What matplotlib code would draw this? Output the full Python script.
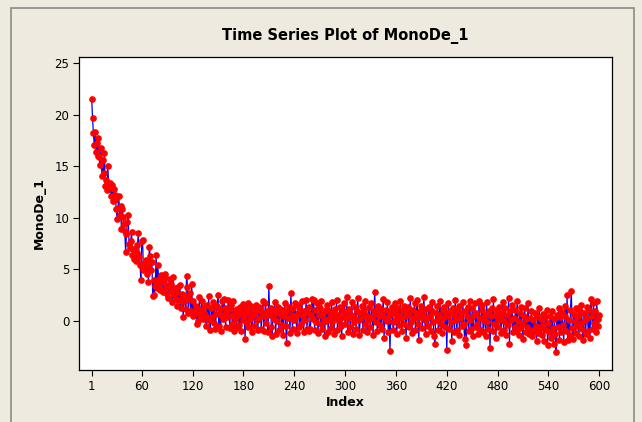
import numpy as np
import matplotlib
matplotlib.use("Agg")
import matplotlib.pyplot as plt
from matplotlib.patches import Rectangle

# MonoDe_1 values, index 1..600 in blocks of 100
mono_001_100 = [
    21.5, 19.7, 18.2, 17.1, 18.3, 16.4, 17.3, 16.0, 17.7, 15.9,
    15.1, 16.8, 14.1, 15.6, 14.4, 16.3, 13.1, 13.7, 12.7, 15.0,
    13.3, 13.4, 12.9, 12.1, 13.2, 11.6, 12.8, 12.2, 11.7, 10.9,
    9.9, 11.0, 12.1, 10.3, 11.2, 8.9, 10.9, 10.1, 9.4, 8.7,
    6.7, 8.4, 9.6, 10.3, 7.5, 7.1, 7.8, 8.6, 6.4, 7.0,
    6.0, 6.8, 5.8, 6.6, 7.4, 8.5, 6.2, 5.4, 4.0, 7.8,
    7.9, 4.9, 5.6, 5.1, 5.9, 4.6, 5.3, 3.8, 7.2, 6.3,
    4.9, 5.7, 2.4, 4.0, 2.5, 3.4, 6.4, 3.2, 5.4, 4.1,
    3.0, 3.7, 4.5, 3.0, 2.8, 3.9, 4.3, 4.6, 3.3, 2.6,
    2.2, 3.5, 4.1, 2.9, 3.6, 1.8, 4.3, 2.5, 3.2, 2.1,
]
mono_101_200 = [
    2.8, 1.5, 3.3, 2.0, 3.5, 1.3, 2.6, 1.9, 0.4, 1.9,
    2.4, 1.2, 4.4, 3.3, 0.8, 2.1, 2.7, 1.0, 3.6, 0.5,
    1.9, 0.7, 0.9, 1.5, -0.3, 1.2, 0.0, 2.3, 0.6, 1.1,
    1.9, 0.2, 1.4, 0.8, 0.6, -0.5, 1.6, 0.3, 2.4, 0.1,
    -0.9, 1.3, 0.4, 1.8, -0.2, 1.4, -0.8, 0.7, 1.5, 2.5,
    -0.5, 1.2, -1.0, 0.6, 1.9, 0.2, 2.1, 1.3, -0.6, 0.9,
    0.4, 2.0, 1.2, -0.7, 1.6, 0.6, -0.3, 1.9, -1.0, 0.2,
    1.1, -0.6, 1.2, 0.6, -0.4, 1.4, -1.0, 0.9, 0.1, 1.65,
    0.5, -1.75, 1.2, -0.2, 1.7, -0.6, 0.8, 0.2, 1.5, -1.1,
    0.6, 1.3, -0.5, 0.9, 1.55, 0.1, -0.9, 1.4, 0.3, 1.1,
]
mono_201_300 = [
    -0.8, 0.8, 1.9, -1.0, 0.5, 1.7, -0.2, 1.0, -1.1, 3.4,
    0.6, 1.3, -0.6, -1.5, 1.1, 0.2, 1.8, -1.3, 0.8, 0.0,
    1.4, -0.9, 1.15, 0.6, -0.4, 1.1, -1.35, 0.5, 1.7, -0.5,
    -2.1, 1.0, 0.3, 1.4, -1.2, 2.7, 0.6, -0.8, 1.3, 0.1,
    1.7, 0.5, -1.2, 0.8, 1.6, -0.6, 1.1, -0.3, 1.9, 0.5,
    -1.1, 1.0, 0.1, 2.0, -0.8, 0.8, 1.4, -1.0, -0.8, 0.6,
    2.1, 0.2, 2.0, -0.9, 1.1, -0.1, 1.7, -1.2, 0.6, 1.3,
    -0.3, 1.9, -0.8, 0.8, 0.2, -1.5, 1.1, 0.0, 1.6, -1.1,
    1.0, 0.4, -0.7, 1.8, -0.1, 0.8, -1.3, 1.2, 0.3, 2.0,
    -0.9, 0.6, 0.0, 1.4, -0.5, -1.5, 1.0, 0.4, 1.7, -0.3,
]
mono_301_400 = [
    0.8, 2.3, -1.1, 0.3, 1.2, -0.6, 0.6, 1.8, -1.3, 0.4,
    -0.1, 1.4, -0.8, 1.0, 2.2, 0.1, -1.4, 0.8, 0.3, 1.5,
    -0.9, 1.1, -0.3, 1.9, 0.6, -1.1, 0.1, 1.4, 0.4, -0.6,
    1.7, 0.3, -1.4, 1.0, 2.8, -0.1, 0.8, -1.0, 1.5, 0.5,
    -0.4, 1.2, -0.8, 0.6, 2.1, -1.6, 0.3, 1.1, 0.0, 1.8,
    -1.1, 0.5, -2.9, 1.0, 1.4, -0.1, -0.9, 0.8, 1.7, 0.1,
    -1.3, 0.6, 1.3, -0.4, 1.9, 0.3, -1.0, 1.0, -0.3, 1.5,
    0.5, -1.6, 0.8, 1.4, -0.6, 0.6, 2.2, -0.1, -1.2, 1.1,
    0.3, 1.7, -0.9, 0.8, 2.0, -0.3, -1.8, 1.0, 0.4, 1.5,
    -0.7, 0.6, 2.3, 0.1, -1.3, 1.2, 0.3, -0.5, 1.4, 0.5,
]
mono_401_500 = [
    -1.0, 1.0, 1.8, -0.1, -1.5, -2.2, 0.8, 0.1, 1.5, -0.9,
    0.6, 1.9, -0.3, -1.2, 1.1, 0.3, 1.4, -0.6, 0.8, -2.8,
    0.5, 1.7, -0.8, 1.0, -0.1, -1.9, 1.3, 0.6, -1.1, 2.0,
    0.1, -0.9, 1.1, 1.5, -1.4, 0.3, 0.8, -0.5, 1.8, -0.3,
    -1.7, 1.0, -2.3, 0.5, 1.4, -1.0, 1.9, 0.1, -0.8, 1.3,
    -1.5, 0.6, 1.7, -0.6, 0.8, -0.3, -1.3, 1.9, 0.3, -0.9,
    1.1, 1.6, -1.1, 0.1, 0.6, -1.5, 1.8, -0.1, -0.8, 1.0,
    -2.6, 0.5, 1.3, -1.0, 2.1, -0.3, 0.6, -1.6, 1.1, 0.1,
    -0.6, 1.4, 0.5, -1.2, 0.8, 1.8, -0.9, 0.0, 1.3, -1.4,
    0.6, -0.4, 2.2, -2.2, 1.0, 0.1, 1.6, -1.1, 0.3, -0.6,
]
mono_501_600 = [
    1.1, -1.0, 1.9, 0.0, -1.4, 0.8, -0.7, 1.4, -0.3, -1.7,
    0.5, 1.3, -1.1, 0.2, -0.6, 1.7, -1.3, 0.3, -0.9, 1.0,
    -1.5, 0.1, -1.0, 0.8, -0.5, -1.9, 0.5, -1.2, 1.3, -0.7,
    0.2, -1.4, 0.7, -0.4, -1.9, 0.4, -0.9, 1.1, -2.3, -0.2,
    -1.1, 0.5, -1.6, 1.0, -0.7, -2.2, 0.2, -1.3, -3.0, 0.6,
    -0.6, 1.3, -1.8, 0.4, -1.1, 0.9, -0.4, -2.0, 0.5, 1.5,
    -1.0, 2.5, -1.8, 0.1, -1.4, 1.1, 2.9, -0.7, -1.7, 0.7,
    0.0, -1.2, 1.3, -0.5, 0.5, -1.5, 1.0, -0.2, 1.6, -0.8,
    -1.8, 0.8, 0.1, -1.3, 1.4, 0.3, -1.0, 1.1, -1.6, 2.1,
    0.5, -0.8, 1.7, -0.2, 1.0, -1.1, 1.9, 0.2, -0.5, 0.6,
]

x_ticks = [1, 60, 120, 180, 240, 300, 360, 420, 480, 540, 600]
y_ticks = [0, 5, 10, 15, 20, 25]

values = np.array(mono_001_100 + mono_101_200 + mono_201_300
                  + mono_301_400 + mono_401_500 + mono_501_600)
index = np.arange(1, len(values) + 1)

bg = "#EEEAE0"
fig = plt.figure(figsize=(6.42, 4.22), dpi=100, facecolor=bg)
# outer grey frame like the Minitab graph window
fig.patches.append(Rectangle((11 / 642, -0.1), 623 / 642, 1 - 8 / 422 + 0.1,
                             transform=fig.transFigure, fill=False,
                             edgecolor="#8a8a8a", linewidth=1.2))

ax = fig.add_axes([79 / 642, 1 - 370 / 422, 533 / 642, 313 / 422])
ax.set_facecolor("white")
ax.plot(index, values, color="#0000FF", linewidth=0.9, zorder=2)
ax.plot(index, values, linestyle="none", marker="o", markersize=3.8,
        markerfacecolor="#FF0000", markeredgecolor="#FF0000", zorder=3)

ax.set_xlim(-14, 615)
ax.set_ylim(-4.75, 25.6)
ax.set_xticks(x_ticks)
ax.set_yticks(y_ticks)
ax.tick_params(direction="out", length=4, width=0.8, labelsize=8.5, pad=3)
for s in ax.spines.values():
    s.set_linewidth(0.9)

ax.set_title("Time Series Plot of MonoDe_1", fontsize=10.5, fontweight="bold", pad=12)
ax.set_xlabel("Index", fontsize=9, fontweight="bold", labelpad=2)
ax.set_ylabel("MonoDe_1", fontsize=9, fontweight="bold", labelpad=6)

fig.savefig("out.png", dpi=100, facecolor=bg)
